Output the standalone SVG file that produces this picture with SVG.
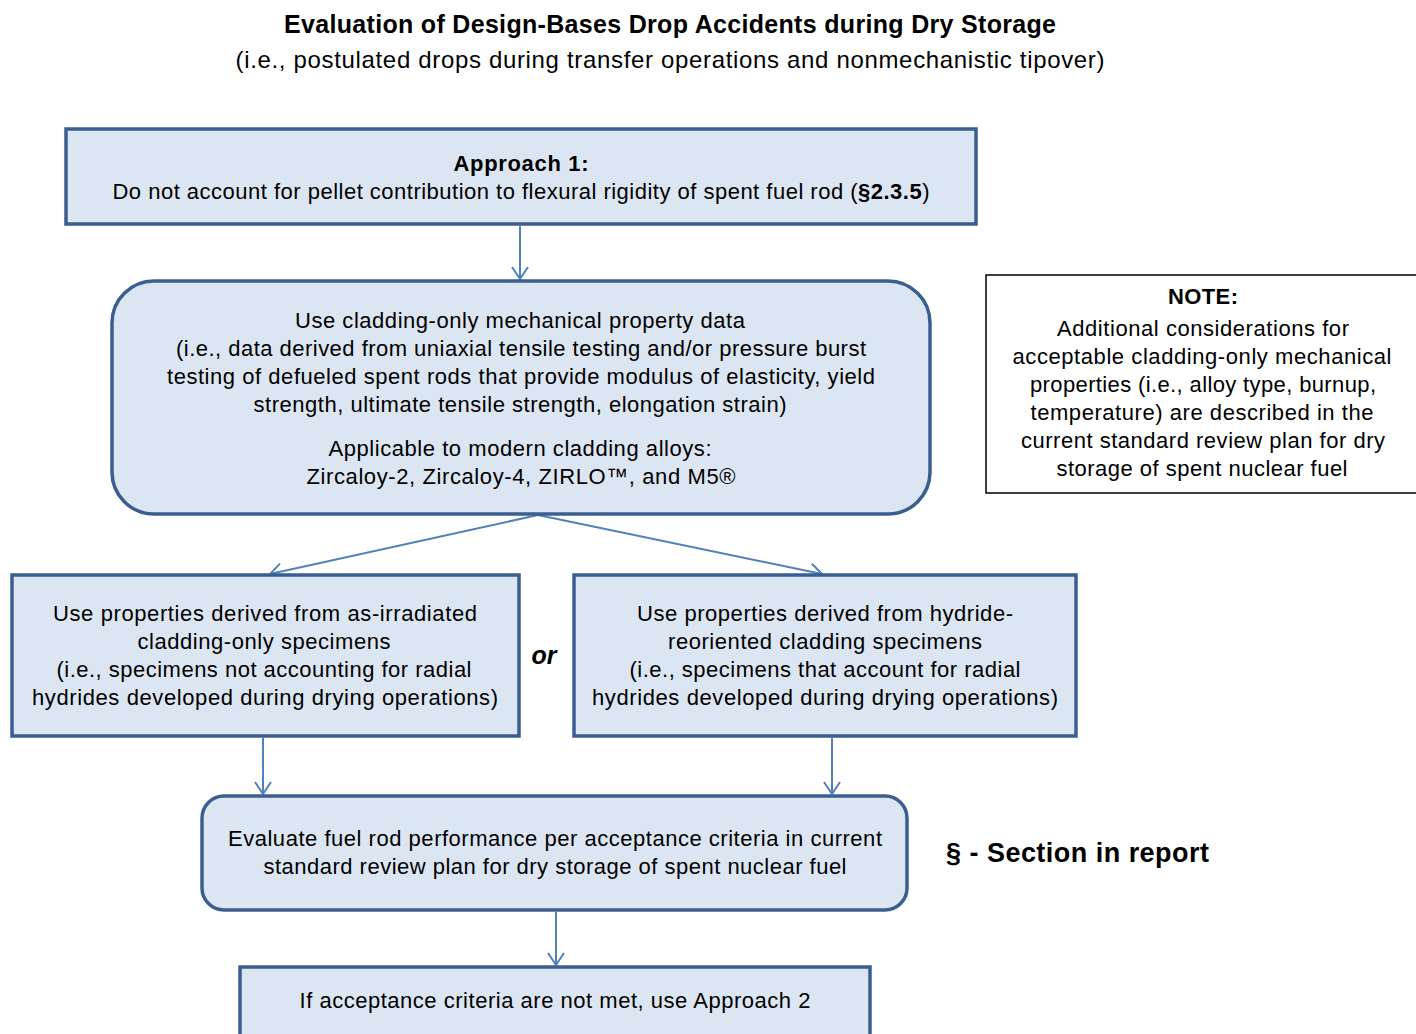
<svg xmlns="http://www.w3.org/2000/svg" width="1416" height="1034" viewBox="0 0 1416 1034">
<style>
text{font-family:"Liberation Sans",Arial,sans-serif;fill:#000;}
.t{font-size:22px;text-anchor:middle;}
.b{font-weight:bold;}
.box{fill:#DCE6F2;stroke:#3A5F8E;stroke-width:3.5;}
.note{fill:#fff;stroke:#000;stroke-width:1.5;}
.con{stroke:#4F81BD;stroke-width:2;fill:none;marker-end:url(#ah);}
</style>
<defs>
<marker id="ah" markerWidth="26" markerHeight="26" refX="13" refY="13" orient="auto" markerUnits="userSpaceOnUse">
<polyline points="1,5 13,13 1,21" fill="none" stroke="#4F81BD" stroke-width="2"/>
</marker>
</defs>
<rect width="1416" height="1034" fill="#fff"/>
<g id="title">
<text x="670" y="33" class="b" style="font-size:25px;text-anchor:middle" textLength="772" lengthAdjust="spacing">Evaluation of Design-Bases Drop Accidents during Dry Storage</text>
<text x="670" y="68" style="font-size:24px;text-anchor:middle" textLength="869" lengthAdjust="spacing">(i.e., postulated drops during transfer operations and nonmechanistic tipover)</text>
</g>
<g id="connectors">
<line class="con" x1="520" y1="226" x2="520" y2="279"/>
<line class="con" x1="538" y1="515" x2="270" y2="574"/>
<line class="con" x1="538" y1="515" x2="822" y2="574"/>
<line class="con" x1="263" y1="738" x2="263" y2="794"/>
<line class="con" x1="832" y1="738" x2="832" y2="794"/>
<line class="con" x1="556" y1="912" x2="556" y2="965"/>
</g>
<g id="approach1">
<rect class="box" x="66" y="129" width="910" height="95"/>
<text x="521" y="171" class="t b" textLength="135" lengthAdjust="spacing">Approach 1:</text>
<text x="521" y="199" class="t" textLength="817" lengthAdjust="spacing">Do not account for pellet contribution to flexural rigidity of spent fuel rod (<tspan class="b">§2.3.5</tspan>)</text>
</g>
<g id="cladding">
<rect class="box" x="112" y="281" width="818" height="233" rx="42" ry="42"/>
<text x="520" y="328" class="t" textLength="450" lengthAdjust="spacing">Use cladding-only mechanical property data</text>
<text x="521" y="356" class="t" textLength="690" lengthAdjust="spacing">(i.e., data derived from uniaxial tensile testing and/or pressure burst</text>
<text x="521" y="384" class="t" textLength="708" lengthAdjust="spacing">testing of defueled spent rods that provide modulus of elasticity, yield</text>
<text x="520" y="412" class="t" textLength="533" lengthAdjust="spacing">strength, ultimate tensile strength, elongation strain)</text>
<text x="520" y="456" class="t" textLength="383" lengthAdjust="spacing">Applicable to modern cladding alloys:</text>
<text x="521" y="484" class="t" textLength="429" lengthAdjust="spacing">Zircaloy-2, Zircaloy-4, ZIRLO™, and M5®</text>
</g>
<g id="note">
<rect class="note" x="986" y="275" width="440" height="218"/>
<text x="1203" y="304" class="t b" textLength="70" lengthAdjust="spacing">NOTE:</text>
<text x="1203" y="336" class="t" textLength="292" lengthAdjust="spacing">Additional considerations for</text>
<text x="1202" y="364" class="t" textLength="379" lengthAdjust="spacing">acceptable cladding-only mechanical</text>
<text x="1203" y="392" class="t" textLength="346" lengthAdjust="spacing">properties (i.e., alloy type, burnup,</text>
<text x="1202" y="420" class="t" textLength="343" lengthAdjust="spacing">temperature) are described in the</text>
<text x="1203" y="448" class="t" textLength="364" lengthAdjust="spacing">current standard review plan for dry</text>
<text x="1202" y="476" class="t" textLength="291" lengthAdjust="spacing">storage of spent nuclear fuel</text>
</g>
<g id="asirradiated">
<rect class="box" x="12" y="575" width="507" height="161"/>
<text x="265" y="621" class="t" textLength="424" lengthAdjust="spacing">Use properties derived from as-irradiated</text>
<text x="264" y="649" class="t" textLength="253" lengthAdjust="spacing">cladding-only specimens</text>
<text x="264" y="677" class="t" textLength="415" lengthAdjust="spacing">(i.e., specimens not accounting for radial</text>
<text x="265" y="705" class="t" textLength="466" lengthAdjust="spacing">hydrides developed during drying operations)</text>
</g>
<text x="544" y="664" class="b" style="font-size:25px;font-style:italic;text-anchor:middle">or</text>
<g id="reoriented">
<rect class="box" x="574" y="575" width="502" height="161"/>
<text x="825" y="621" class="t" textLength="376" lengthAdjust="spacing">Use properties derived from hydride-</text>
<text x="825" y="649" class="t" textLength="314" lengthAdjust="spacing">reoriented cladding specimens</text>
<text x="825" y="677" class="t" textLength="391" lengthAdjust="spacing">(i.e., specimens that account for radial</text>
<text x="825" y="705" class="t" textLength="466" lengthAdjust="spacing">hydrides developed during drying operations)</text>
</g>
<g id="evaluate">
<rect class="box" x="202" y="796" width="705" height="114" rx="22" ry="22"/>
<text x="555" y="846" class="t" textLength="654" lengthAdjust="spacing">Evaluate fuel rod performance per acceptance criteria in current</text>
<text x="555" y="874" class="t" textLength="583" lengthAdjust="spacing">standard review plan for dry storage of spent nuclear fuel</text>
</g>
<g id="approach2">
<rect class="box" x="240" y="967" width="630" height="80"/>
<text x="555" y="1008" class="t" textLength="511" lengthAdjust="spacing">If acceptance criteria are not met, use Approach 2</text>
</g>
<g id="legend">
<text x="946" y="862" class="b" style="font-size:27px" textLength="263" lengthAdjust="spacing">§ - Section in report</text>
</g>
</svg>
